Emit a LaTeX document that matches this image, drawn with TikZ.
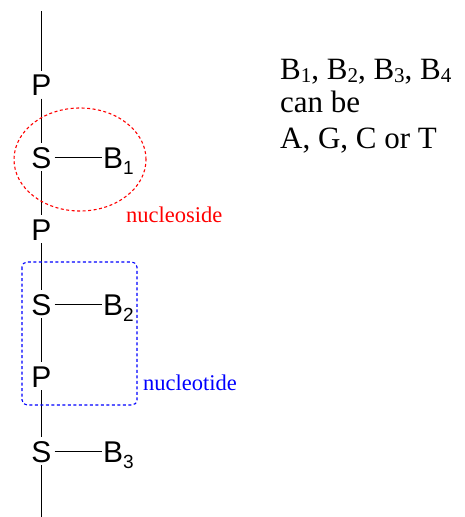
\documentclass[tikz,border=0pt]{standalone}
\usepackage{fontspec}
\setmainfont{Liberation Serif}
\setsansfont{Liberation Sans}
\newcommand\bsub[1]{\raisebox{-6pt}{\fontsize{19}{19}\selectfont #1}}
\newcommand\ssub[1]{\raisebox{-3pt}{\fontsize{21}{21}\selectfont #1}}
\tikzset{
  atom/.style={font=\sffamily\fontsize{30}{30}\selectfont, inner sep=3pt, text height=21.5pt, text depth=0pt, anchor=base},
  bnode/.style={font=\sffamily\fontsize{30}{30}\selectfont, inner sep=1pt, text height=21.5pt, text depth=0pt, anchor=base west},
  bond/.style={line width=1pt},
  label/.style={anchor=base west, inner sep=0pt},
  grp/.style={line width=1.1pt, dash pattern=on 3pt off 2.5pt}
}
\begin{document}
\begin{tikzpicture}[x=1pt,y=-1pt]
\useasboundingbox (0,0) rectangle (465,517);
\coordinate (top) at (41.5,11);
\coordinate (bot) at (41.5,517);
\node[atom] (P1) at (41.5,95.5) {P};
\node[atom] (S1) at (41.5,168) {S};
\node[atom] (P2) at (41.5,240) {P};
\node[atom] (S2) at (41.5,315) {S};
\node[atom] (P3) at (41.5,387) {P};
\node[atom] (S3) at (41.5,462) {S};
\node[bnode] (B1) at (102,168) {B\bsub{1}};
\node[bnode] (B2) at (102,315) {B\bsub{2}};
\node[bnode] (B3) at (102,462) {B\bsub{3}};
\draw[bond] (top) -- (P1.north);
\draw[bond] (P1.south) -- (S1.north);
\draw[bond] (S1.south) -- (P2.north);
\draw[bond] (P2.south) -- (S2.north);
\draw[bond] (S2.south) -- (P3.north);
\draw[bond] (P3.south) -- (S3.north);
\draw[bond] (S3.south) -- (bot);
\draw[bond] (S1.east) -- (B1.west);
\draw[bond] (S2.east) -- (B2.west);
\draw[bond] (S3.east) -- (B3.west);
\draw[grp, red] (80,159.5) ellipse [x radius=66pt, y radius=51.5pt];
\draw[grp, blue, rounded corners=5pt] (22,262) rectangle (137,405);
\node[label, red, font=\fontsize{22.5}{22.5}\selectfont] (ns) at (126,222) {nucleoside};
\node[label, blue, font=\fontsize{22.5}{22.5}\selectfont] (nt) at (143,390) {nucleotide};
\node[label, font=\fontsize{31}{31}\selectfont] (t1) at (280,79) {B\ssub{1}, B\ssub{2}, B\ssub{3}, B\ssub{4}};
\node[label, font=\fontsize{31}{31}\selectfont] (t2) at (280,112) {can be};
\node[label, font=\fontsize{31}{31}\selectfont] (t3) at (280,148) {A, G, C or T};
\end{tikzpicture}
\end{document}
